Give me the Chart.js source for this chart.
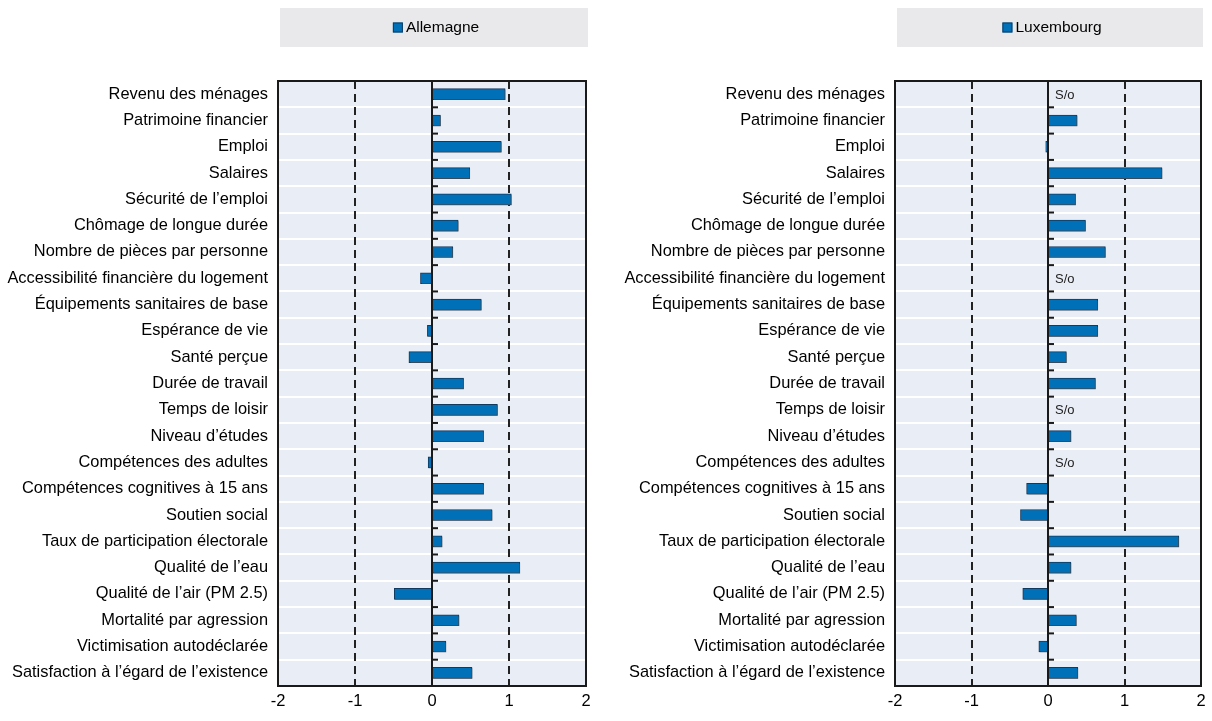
<!DOCTYPE html>
<html>
<head>
<meta charset="utf-8">
<script src="https://cdn.jsdelivr.net/npm/chart.js@4.4.1/dist/chart.umd.min.js"></script>
<style>
    body { margin: 0; background: #ffffff; }
    .panel { position: absolute; top: 0; width: 606px; height: 721px; }
    #leftPanel { left: 0; }
    #rightPanel { left: 606px; }
</style>
</head>
<body>
<div class="panel" id="leftPanel"><canvas id="chartAllemagne"></canvas></div>
<div class="panel" id="rightPanel"><canvas id="chartLuxembourg"></canvas></div>
<script>
const categories = [
    "Revenu des ménages",
    "Patrimoine financier",
    "Emploi",
    "Salaires",
    "Sécurité de l’emploi",
    "Chômage de longue durée",
    "Nombre de pièces par personne",
    "Accessibilité financière du logement",
    "Équipements sanitaires de base",
    "Espérance de vie",
    "Santé perçue",
    "Durée de travail",
    "Temps de loisir",
    "Niveau d’études",
    "Compétences des adultes",
    "Compétences cognitives à 15 ans",
    "Soutien social",
    "Taux de participation électorale",
    "Qualité de l’eau",
    "Qualité de l’air (PM 2.5)",
    "Mortalité par agression",
    "Victimisation autodéclarée",
    "Satisfaction à l’égard de l’existence",
];

const allemagneValues = [0.95, 0.11, 0.90, 0.49, 1.03, 0.34, 0.27, -0.15, 0.64, -0.06, -0.30, 0.41, 0.85, 0.67, -0.05, 0.67, 0.78, 0.13, 1.14, -0.49, 0.35, 0.18, 0.52];

// null = S/o (sans objet)
const luxembourgValues = [null, 0.38, -0.03, 1.49, 0.36, 0.49, 0.75, null, 0.65, 0.65, 0.24, 0.62, null, 0.30, null, -0.28, -0.36, 1.71, 0.30, -0.33, 0.37, -0.12, 0.39];

const xTickValues = [-2, -1, 0, 1, 2];
const dashedValues = [-1, 1];
const missingLabel = "S/o";

const fontFamily = "'Liberation Sans', Arial, sans-serif";
const barColor = "#0070b8";
const barBorder = "#123a5e";

const panelPlugin =
{
    id: "panelPlugin",
    beforeDraw(chart)
    {
        const {ctx, chartArea} = chart;
        ctx.save();
        ctx.fillStyle = "#e9edf6";
        ctx.fillRect(chartArea.left, chartArea.top, chartArea.width, chartArea.height);

        // legend box
        const boxLeft = chartArea.left + 2;
        ctx.fillStyle = "#e9e9eb";
        ctx.fillRect(boxLeft, 8, chartArea.width, 39);
        const label = chart.data.datasets[0].label;
        ctx.font = "15.5px " + fontFamily;
        const textWidth = ctx.measureText(label).width;
        const groupWidth = 10 + 3 + textWidth;
        const startX = boxLeft + chartArea.width / 2 - groupWidth / 2 + 2;
        ctx.fillStyle = barColor;
        ctx.fillRect(startX, 22.5, 10, 10);
        ctx.strokeStyle = barBorder;
        ctx.lineWidth = 1;
        ctx.strokeRect(startX + 0.5, 23, 9, 9);
        ctx.fillStyle = "#000000";
        ctx.textBaseline = "middle";
        ctx.textAlign = "left";
        ctx.fillText(label, startX + 13, 28);
        ctx.restore();
    },
    beforeDatasetsDraw(chart)
    {
        const {ctx, chartArea, scales} = chart;
        ctx.save();
        ctx.strokeStyle = "#222222";
        ctx.lineWidth = 2;
        ctx.setLineDash([8, 5]);
        for(const value of dashedValues)
        {
            const x = Math.round(scales.x.getPixelForValue(value));
            ctx.beginPath();
            ctx.moveTo(x, chartArea.top);
            ctx.lineTo(x, chartArea.bottom);
            ctx.stroke();
        }
        ctx.restore();
        // soft grey shadow under the bars
        ctx.save();
        ctx.shadowColor = "rgba(90, 90, 90, 0.55)";
        ctx.shadowOffsetX = 1;
        ctx.shadowOffsetY = 1;
        ctx.shadowBlur = 0;
    },
    afterDatasetsDraw(chart)
    {
        const {ctx, chartArea, scales} = chart;
        ctx.restore();
        const zeroX = Math.round(scales.x.getPixelForValue(0));
        ctx.save();
        ctx.strokeStyle = "#1a1a1a";
        ctx.lineWidth = 2;
        ctx.beginPath();
        ctx.moveTo(zeroX, chartArea.top);
        ctx.lineTo(zeroX, chartArea.bottom);
        ctx.stroke();

        // small ticks on the zero line between rows
        const count = chart.data.labels.length;
        for(let i = 1; i < count; i++)
        {
            const y = (scales.y.getPixelForValue(i - 1) + scales.y.getPixelForValue(i)) / 2;
            ctx.beginPath();
            ctx.moveTo(zeroX, y);
            ctx.lineTo(zeroX + 6, y);
            ctx.stroke();
        }

        ctx.strokeRect(chartArea.left, chartArea.top, chartArea.width, chartArea.height);

        // S/o labels
        ctx.fillStyle = "#222222";
        ctx.font = "13px " + fontFamily;
        ctx.textAlign = "left";
        ctx.textBaseline = "middle";
        const values = chart.data.datasets[0].data;
        values.forEach((value, index) =>
        {
            if(value === null)
            {
                ctx.fillText(missingLabel, zeroX + 7, scales.y.getPixelForValue(index) + 1);
            }
        });
        ctx.restore();
    }
};

function makeConfig(label, values, axisWidth, paddingRight)
{
    return {
        type: "bar",
        data:
        {
            labels: categories,
            datasets:
            [
                {
                    label: label,
                    data: values,
                    backgroundColor: barColor,
                    borderColor: barBorder,
                    borderWidth: 1,
                    borderSkipped: false,
                    barThickness: 11,
                }
            ],
        },
        options:
        {
            indexAxis: "y",
            responsive: true,
            maintainAspectRatio: false,
            animation: false,
            layout:
            {
                padding: {top: 81, bottom: 0, left: 0, right: paddingRight},
            },
            plugins:
            {
                legend: {display: false},
                tooltip: {enabled: false},
            },
            scales:
            {
                x:
                {
                    type: "linear",
                    min: -2,
                    max: 2,
                    afterBuildTicks: (scale) =>
                    {
                        scale.ticks = xTickValues.map((v) => ({value: v}));
                    },
                    afterFit: (scale) =>
                    {
                        scale.height = 35;
                    },
                    grid: {display: false, drawTicks: false},
                    border: {display: false},
                    ticks:
                    {
                        color: "#000000",
                        padding: 6,
                        font: {family: fontFamily, size: 16.5},
                    },
                },
                y:
                {
                    type: "category",
                    afterFit: (scale) =>
                    {
                        scale.width = axisWidth;
                    },
                    grid:
                    {
                        color: "#ffffff",
                        lineWidth: 2,
                        drawTicks: false,
                        offset: true,
                    },
                    border: {display: false},
                    ticks:
                    {
                        color: "#000000",
                        padding: 10,
                        autoSkip: false,
                        font: {family: fontFamily, size: 16.4},
                    },
                },
            },
        },
        plugins: [panelPlugin],
    };
}

const allemagneChart = new Chart(document.getElementById("chartAllemagne"), makeConfig("Allemagne", allemagneValues, 278, 20));
const luxembourgChart = new Chart(document.getElementById("chartLuxembourg"), makeConfig("Luxembourg", luxembourgValues, 289, 11));
</script>
</body>
</html>
